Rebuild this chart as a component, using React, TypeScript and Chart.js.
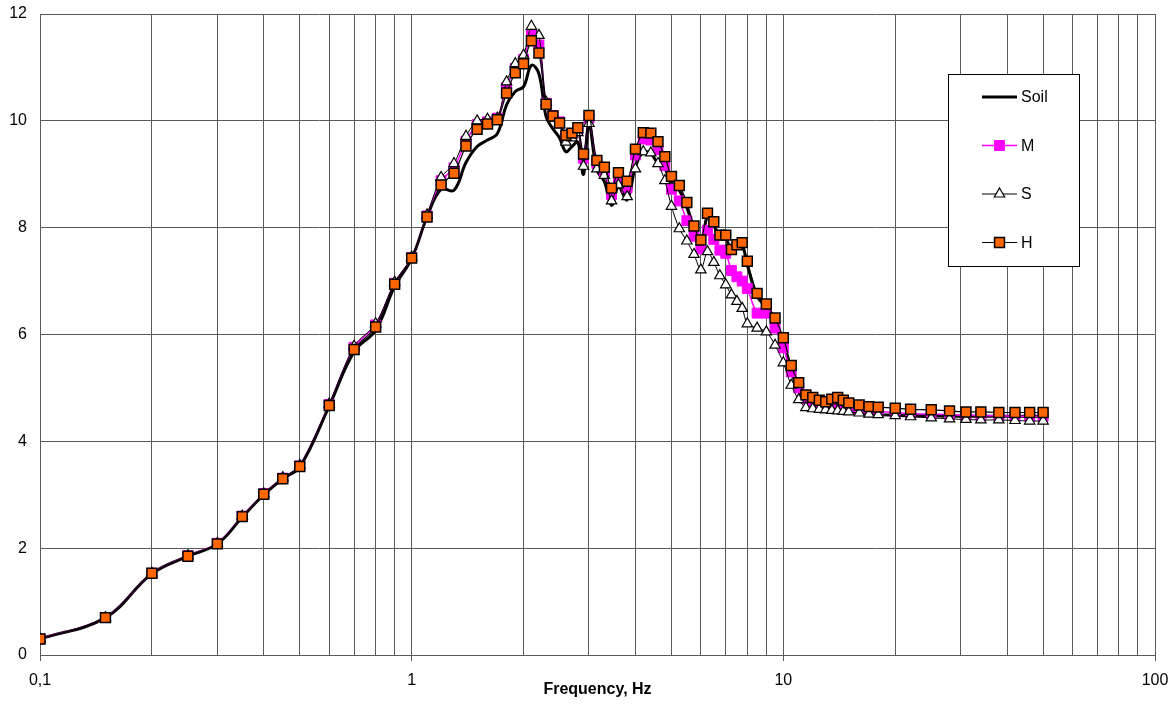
import React, { useEffect, useRef } from 'react';
import { Chart, registerables } from 'chart.js';

Chart.register(...registerables);

// Frequencies (Hz) shared by all four response curves
const FREQ = [
  0.1, 0.15, 0.2, 0.25, 0.3, 0.35, 0.4, 0.45, 0.5, 0.6, 0.7, 0.8, 0.9, 1.0,
  1.1, 1.2, 1.3, 1.4, 1.5, 1.6, 1.7, 1.8, 1.9, 2.0,
  2.1, 2.2, 2.3, 2.4, 2.5, 2.6, 2.7, 2.8, 2.9, 3.0,
  3.15, 3.3, 3.45, 3.6, 3.8,
  4.0, 4.2, 4.4, 4.6, 4.8, 5.0,
  5.25, 5.5, 5.75, 6.0, 6.25, 6.5, 6.75, 7.0, 7.25, 7.5, 7.75, 8.0,
  8.5, 9.0, 9.5, 10,
  10.5, 11, 11.5, 12, 12.5, 13, 13.5, 14, 14.5, 15,
  16, 17, 18,
  20, 22, 25, 28, 31, 34, 38, 42, 46, 50,
];

const SOIL = [
  0.3, 0.7, 1.52, 1.85, 2.08, 2.58, 3.0, 3.3, 3.52, 4.66, 5.68, 6.08, 6.9, 7.42,
  8.2, 8.72, 8.7, 9.22, 9.52, 9.64, 9.76, 10.3, 10.55, 10.64,
  11.04, 10.88, 10.08, 9.85, 9.68, 9.42, 9.52, 9.6, 9.0, 9.92,
  9.08, 8.86, 8.42, 8.76, 8.52,
  9.14, 9.42, 9.38, 9.2, 9.1, 8.85,
  8.7, 8.38, 7.98, 7.72, 8.2, 8.04, 7.8, 7.8, 7.54, 7.62, 7.66, 7.3,
  6.72, 6.5, 6.24, 5.85,
  5.3, 4.95, 4.7, 4.62, 4.58, 4.56, 4.58, 4.58, 4.55, 4.53,
  4.52, 4.51, 4.5,
  4.49, 4.48, 4.48, 4.47, 4.47, 4.47, 4.47, 4.47, 4.47, 4.47,
];

const M_VALUES = [
  0.3, 0.7, 1.53, 1.86, 2.09, 2.6, 3.02, 3.31, 3.54, 4.69, 5.76, 6.18, 6.96, 7.44,
  8.22, 8.88, 9.12, 9.62, 9.93, 9.98, 10.05, 10.62, 10.98, 11.15,
  11.62, 11.42, 10.33, 10.1, 9.98, 9.72, 9.76, 9.84, 9.3, 10.05,
  9.2, 9.05, 8.62, 8.92, 8.75,
  9.36, 9.66, 9.64, 9.46, 9.16, 8.72,
  8.5, 8.13, 7.84, 7.6, 7.95, 7.78, 7.58, 7.52, 7.2, 7.08, 7.0, 6.86,
  6.4, 6.4, 6.12, 5.75,
  5.3, 5.0, 4.8, 4.74, 4.69, 4.66, 4.68, 4.7, 4.66, 4.62,
  4.59, 4.57, 4.56,
  4.54, 4.52, 4.51, 4.5, 4.49, 4.48, 4.48, 4.47, 4.47, 4.47,
];

const S_VALUES = [
  0.3, 0.7, 1.53, 1.86, 2.09, 2.6, 3.02, 3.32, 3.55, 4.7, 5.78, 6.2, 6.98, 7.45,
  8.24, 8.94, 9.2, 9.71, 10.0, 10.03, 10.05, 10.73, 11.07, 11.23,
  11.77, 11.6, 10.35, 10.05, 9.93, 9.6, 9.68, 9.78, 9.15, 9.95,
  9.1, 8.98, 8.5, 8.8, 8.58,
  9.1, 9.42, 9.4, 9.2, 8.88, 8.4,
  7.98, 7.75, 7.5, 7.21, 7.55, 7.35, 7.1, 6.93, 6.74, 6.62, 6.49, 6.2,
  6.12, 6.05, 5.8, 5.47,
  5.05, 4.78, 4.63, 4.61, 4.6, 4.59, 4.58, 4.57, 4.56, 4.55,
  4.53, 4.51, 4.5,
  4.48, 4.46, 4.44, 4.42, 4.41, 4.4, 4.4, 4.39, 4.38, 4.38,
];

const H_VALUES = [
  0.3, 0.7, 1.53, 1.85, 2.08, 2.59, 3.01, 3.3, 3.53, 4.67, 5.72, 6.14, 6.94, 7.43,
  8.2, 8.8, 9.02, 9.53, 9.84, 9.94, 10.02, 10.52, 10.9, 11.07,
  11.5, 11.27, 10.31, 10.09, 9.96, 9.73, 9.77, 9.87, 9.38, 10.1,
  9.26, 9.13, 8.74, 9.03, 8.87,
  9.47, 9.78, 9.77, 9.61, 9.33, 8.96,
  8.79, 8.47, 8.03, 7.77, 8.27, 8.11, 7.86, 7.86, 7.59, 7.68, 7.72, 7.37,
  6.77, 6.57, 6.31, 5.94,
  5.42, 5.1, 4.87, 4.82, 4.77, 4.74, 4.79, 4.82, 4.77, 4.72,
  4.68, 4.65, 4.64,
  4.62, 4.6, 4.59, 4.57, 4.55, 4.55, 4.54, 4.54, 4.54, 4.54,
];

const SERIES_NAMES = ['Soil', 'M', 'S', 'H'];

// Log-axis gridlines: every 1..9 × decade from 0.1 to 100
const X_GRID = [
  0.1, 0.2, 0.3, 0.4, 0.5, 0.6, 0.7, 0.8, 0.9,
  1, 2, 3, 4, 5, 6, 7, 8, 9,
  10, 20, 30, 40, 50, 60, 70, 80, 90,
  100,
];
const X_MAJOR = [0.1, 1, 10, 100];
const X_MAJOR_LABELS = ['0,1', '1', '10', '100'];
const Y_TICKS = [0, 2, 4, 6, 8, 10, 12];

const FONT = "Arial, 'Liberation Sans', sans-serif";
const GRID_COLOR = '#5a5a5a';

const pts = (ys: number[]) => FREQ.map((f, i) => ({ x: f, y: ys[i] }));

const majorIndex = (v: number) =>
  X_MAJOR.findIndex((m) => Math.abs(m - v) < 1e-9);

function drawMarker(ctx: CanvasRenderingContext2D, ds: any, x: number, y: number) {
  const r = ds.pointRadius;
  if (!r) return;
  ctx.save();
  ctx.fillStyle = ds.pointBackgroundColor;
  ctx.strokeStyle = ds.pointBorderColor;
  ctx.lineWidth = ds.pointBorderWidth;
  ctx.beginPath();
  if (ds.pointStyle === 'triangle') {
    for (let k = 0; k < 3; k++) {
      const a = (k * 2 * Math.PI) / 3;
      const px = x + Math.sin(a) * r;
      const py = y - Math.cos(a) * r;
      if (k === 0) ctx.moveTo(px, py);
      else ctx.lineTo(px, py);
    }
    ctx.closePath();
  } else {
    const s = Math.SQRT1_2 * r;
    ctx.rect(x - s, y - s, 2 * s, 2 * s);
  }
  ctx.fill();
  if (ds.pointBorderWidth > 0) ctx.stroke();
  ctx.restore();
}

// Framed legend inside the plot, with a line + marker sample per series
const boxLegend = {
  id: 'boxLegend',
  afterDraw(chart: any) {
    const ctx = chart.ctx as CanvasRenderingContext2D;
    const left = 948;
    const top = 74;
    const w = 131;
    const h = 192;
    ctx.save();
    ctx.fillStyle = '#ffffff';
    ctx.fillRect(left, top, w, h);
    ctx.strokeStyle = '#000000';
    ctx.lineWidth = 1;
    ctx.strokeRect(left + 0.5, top + 0.5, w, h);
    const sorted = SERIES_NAMES.map((name) =>
      chart.data.datasets.find((d: any) => d.label === name)
    );
    sorted.forEach((ds: any, i: number) => {
      const y = top + 23 + i * 48.5;
      ctx.strokeStyle = ds.borderColor;
      ctx.lineWidth = ds.borderWidth;
      ctx.beginPath();
      ctx.moveTo(982, y);
      ctx.lineTo(1017, y);
      ctx.stroke();
      drawMarker(ctx, ds, 999.5, y);
      ctx.fillStyle = '#000000';
      ctx.font = `16px ${FONT}`;
      ctx.textAlign = 'left';
      ctx.textBaseline = 'middle';
      ctx.fillText(ds.label, 1021, y + 1);
    });
    ctx.restore();
  },
};

export default function App() {
  const canvasRef = useRef<HTMLCanvasElement | null>(null);

  useEffect(() => {
    const canvas = canvasRef.current;
    if (!canvas) return;
    const chart = new Chart(canvas, {
      type: 'line',
      data: {
        datasets: [
          {
            label: 'Soil',
            data: pts(SOIL),
            borderColor: '#000000',
            borderWidth: 3,
            pointRadius: 0,
            tension: 0.4,
            order: 4,
          },
          {
            label: 'M',
            data: pts(M_VALUES),
            borderColor: '#ff00ff',
            borderWidth: 1.5,
            pointStyle: 'rect',
            pointRadius: 7,
            pointBackgroundColor: '#ff00ff',
            pointBorderColor: '#ff00ff',
            pointBorderWidth: 1,
            tension: 0.3,
            order: 3,
          },
          {
            label: 'S',
            data: pts(S_VALUES),
            borderColor: '#000000',
            borderWidth: 1,
            pointStyle: 'triangle',
            pointRadius: 6,
            pointBackgroundColor: '#ffffff',
            pointBorderColor: '#000000',
            pointBorderWidth: 1.2,
            tension: 0.3,
            order: 2,
          },
          {
            label: 'H',
            data: pts(H_VALUES),
            borderColor: '#000000',
            borderWidth: 1.2,
            pointStyle: 'rect',
            pointRadius: 7,
            pointBackgroundColor: '#ff6600',
            pointBorderColor: '#000000',
            pointBorderWidth: 1.5,
            tension: 0.3,
            order: 1,
          },
        ],
      },
      options: {
        responsive: false,
        animation: false,
        events: [],
        layout: { padding: { top: 14, right: 19, left: 0, bottom: 0 } },
        plugins: {
          legend: { display: false },
          tooltip: { enabled: false },
        },
        scales: {
          x: {
            type: 'logarithmic',
            min: 0.1,
            max: 100,
            afterBuildTicks: (scale: any) => {
              scale.ticks = X_GRID.map((v) => ({ value: v }));
            },
            afterFit: (scale: any) => {
              scale.height = 51;
              scale.paddingLeft = 0;
              scale.paddingRight = 0;
            },
            grid: {
              color: GRID_COLOR,
              lineWidth: 1,
              drawTicks: true,
              tickLength: 6,
              tickColor: (c: any) =>
                c.tick && majorIndex(c.tick.value) >= 0 ? GRID_COLOR : 'rgba(0,0,0,0)',
            },
            border: { color: GRID_COLOR },
            ticks: {
              autoSkip: false,
              maxRotation: 0,
              padding: 10,
              color: '#000000',
              font: { family: FONT, size: 16 },
              callback: (v: any) => {
                const i = majorIndex(Number(v));
                return i >= 0 ? X_MAJOR_LABELS[i] : '';
              },
            },
            title: {
              display: true,
              text: 'Frequency, Hz',
              color: '#000000',
              font: { family: FONT, size: 16, weight: 'bold' },
              padding: { top: 0, bottom: 7 },
            },
          },
          y: {
            type: 'linear',
            min: 0,
            max: 12,
            afterBuildTicks: (scale: any) => {
              scale.ticks = Y_TICKS.map((v) => ({ value: v }));
            },
            afterFit: (scale: any) => {
              scale.width = 40;
              scale.paddingTop = 0;
              scale.paddingBottom = 0;
            },
            grid: { color: GRID_COLOR, lineWidth: 1, drawTicks: false },
            border: { color: GRID_COLOR },
            ticks: {
              padding: 13,
              color: '#000000',
              font: { family: FONT, size: 16 },
            },
          },
        },
      },
      plugins: [boxLegend],
    } as any);
    return () => chart.destroy();
  }, []);

  return (
    <div style={{ position: 'absolute', left: 0, top: 0, width: 1174, height: 706, background: '#ffffff' }}>
      <canvas ref={canvasRef} width={1174} height={706} />
    </div>
  );
}
